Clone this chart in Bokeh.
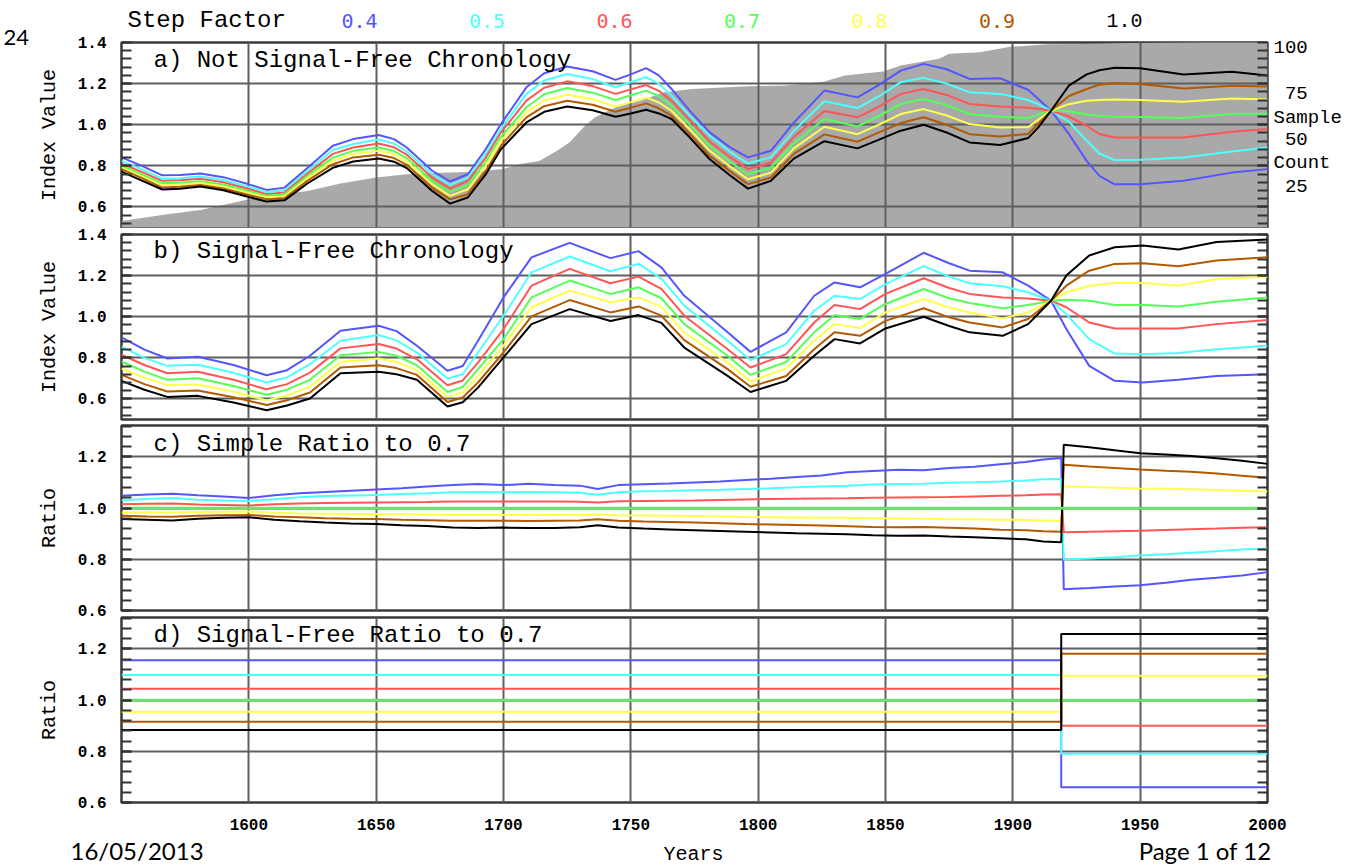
from bokeh.plotting import figure
from bokeh.models import (Range1d, LinearAxis, FixedTicker, Label, Grid,
                          PrintfTickFormatter, CustomJSTickFormatter)
from bokeh.layouts import column
from bokeh.embed import file_html
from bokeh.resources import INLINE

# ---------------- data ----------------
step_factors = ["0.4", "0.5", "0.6", "0.7", "0.8", "0.9", "1.0"]
line_colors = ["#5555ff", "#4dffff", "#ff5555", "#55ff55", "#ffff4d", "#b35900", "#000000"]

year_ticks = [1600, 1650, 1700, 1750, 1800, 1850, 1900, 1950, 2000]

# a) Not signal-free chronology
years_a = [1550, 1558, 1566, 1573, 1581, 1590, 1600, 1607, 1614, 1623, 1633, 1641, 1651, 1657, 1662,
           1672, 1679, 1686, 1693, 1699, 1709, 1716, 1725, 1735, 1744, 1750, 1756, 1761, 1766, 1773,
           1781, 1789, 1796, 1805, 1814, 1826, 1839, 1847, 1856, 1865, 1874, 1883, 1895, 1906, 1910,
           1915, 1922, 1929, 1934, 1940, 1950, 1967, 1986, 2000]
a_04 = [0.841, 0.800, 0.754, 0.755, 0.763, 0.745, 0.710, 0.683, 0.694, 0.789, 0.898, 0.930, 0.950, 0.930, 0.889,
        0.776, 0.724, 0.759, 0.880, 1.003, 1.182, 1.250, 1.283, 1.260, 1.218, 1.245, 1.275, 1.240, 1.174, 1.070,
        0.963, 0.890, 0.841, 0.873, 1.010, 1.166, 1.133, 1.190, 1.263, 1.296, 1.270, 1.223, 1.226, 1.170, 1.125,
        1.068, 0.955, 0.824, 0.751, 0.710, 0.710, 0.727, 0.767, 0.784]
a_05 = [0.824, 0.783, 0.738, 0.740, 0.748, 0.731, 0.697, 0.672, 0.681, 0.775, 0.877, 0.906, 0.928, 0.908, 0.870,
        0.759, 0.707, 0.743, 0.858, 0.979, 1.150, 1.215, 1.247, 1.222, 1.182, 1.208, 1.231, 1.200, 1.141, 1.045,
        0.946, 0.868, 0.811, 0.841, 0.970, 1.114, 1.081, 1.135, 1.207, 1.228, 1.200, 1.158, 1.150, 1.120, 1.100,
        1.068, 1.015, 0.922, 0.860, 0.828, 0.830, 0.840, 0.870, 0.889]
a_06 = [0.811, 0.770, 0.727, 0.730, 0.737, 0.720, 0.687, 0.662, 0.670, 0.762, 0.858, 0.889, 0.909, 0.890, 0.854,
        0.743, 0.689, 0.727, 0.840, 0.963, 1.117, 1.180, 1.211, 1.188, 1.150, 1.172, 1.193, 1.165, 1.117, 1.025,
        0.917, 0.842, 0.784, 0.816, 0.940, 1.067, 1.036, 1.085, 1.150, 1.174, 1.145, 1.101, 1.089, 1.082, 1.078,
        1.068, 1.040, 0.995, 0.955, 0.938, 0.938, 0.938, 0.966, 0.979]
a_07 = [0.800, 0.758, 0.715, 0.718, 0.725, 0.709, 0.677, 0.654, 0.661, 0.750, 0.840, 0.873, 0.889, 0.872, 0.837,
        0.727, 0.673, 0.707, 0.820, 0.941, 1.085, 1.148, 1.179, 1.156, 1.120, 1.143, 1.166, 1.140, 1.093, 1.003,
        0.898, 0.820, 0.759, 0.792, 0.910, 1.028, 0.992, 1.040, 1.101, 1.125, 1.096, 1.052, 1.039, 1.032, 1.050,
        1.068, 1.066, 1.050, 1.043, 1.039, 1.037, 1.033, 1.053, 1.053]
a_08 = [0.792, 0.749, 0.706, 0.709, 0.717, 0.700, 0.668, 0.646, 0.652, 0.740, 0.825, 0.857, 0.873, 0.856, 0.821,
        0.711, 0.654, 0.686, 0.800, 0.922, 1.060, 1.118, 1.146, 1.125, 1.089, 1.110, 1.133, 1.108, 1.068, 0.980,
        0.873, 0.796, 0.735, 0.767, 0.885, 0.990, 0.954, 0.998, 1.052, 1.076, 1.045, 1.003, 0.987, 0.988, 1.025,
        1.068, 1.100, 1.117, 1.120, 1.123, 1.120, 1.112, 1.128, 1.123]
a_09 = [0.784, 0.740, 0.694, 0.698, 0.707, 0.690, 0.658, 0.637, 0.642, 0.727, 0.808, 0.841, 0.854, 0.838, 0.805,
        0.694, 0.637, 0.662, 0.775, 0.898, 1.036, 1.090, 1.117, 1.097, 1.063, 1.083, 1.104, 1.080, 1.044, 0.958,
        0.849, 0.773, 0.711, 0.743, 0.858, 0.953, 0.917, 0.960, 1.008, 1.036, 1.000, 0.954, 0.943, 0.955, 1.005,
        1.068, 1.140, 1.174, 1.195, 1.202, 1.198, 1.176, 1.190, 1.186]
a_10 = [0.772, 0.728, 0.685, 0.689, 0.699, 0.681, 0.648, 0.626, 0.632, 0.714, 0.790, 0.821, 0.836, 0.820, 0.789,
        0.678, 0.616, 0.646, 0.758, 0.881, 1.011, 1.063, 1.089, 1.070, 1.039, 1.055, 1.073, 1.055, 1.028, 0.940,
        0.832, 0.753, 0.689, 0.727, 0.835, 0.920, 0.885, 0.925, 0.971, 1.000, 0.962, 0.914, 0.901, 0.935, 0.987,
        1.068, 1.190, 1.245, 1.265, 1.277, 1.275, 1.244, 1.258, 1.239]

# sample count (grey area, right axis of panel a)
count_years = [1550, 1568, 1581, 1600, 1613, 1623, 1636, 1650, 1662, 1672, 1686, 1700, 1706, 1714, 1721,
               1726, 1732, 1736, 1744, 1754, 1763, 1774, 1796, 1811, 1826, 1834, 1849, 1856, 1871, 1875,
               1887, 1899, 1914, 1930, 1946, 2000]
sample_count = [6.6, 10.2, 12.5, 18.3, 21.0, 22.8, 26.8, 30.0, 31.8, 32.5, 33.0, 34.6, 37.2, 39.0, 44.5,
                49.0, 58.0, 62.5, 67.9, 71.5, 76.0, 77.8, 79.2, 79.6, 81.8, 85.0, 87.2, 90.4, 94.0, 96.7,
                97.6, 100.5, 101.8, 102.0, 102.5, 103.5]
count_ticks = [25, 38, 50, 62, 75, 100]
count_labels = {25: "\u00a025", 38: "Count", 50: "\u00a050", 62: "Sample", 75: "\u00a075", 100: "100"}

# b) Signal-free chronology
years_b = [1550, 1559, 1568, 1580, 1594, 1607, 1615, 1624, 1636, 1651, 1658, 1666, 1678, 1684, 1690,
           1700, 1711, 1726, 1742, 1753, 1762, 1771, 1788, 1797, 1811, 1822, 1830, 1840, 1850, 1865,
           1875, 1883, 1896, 1906, 1915, 1921, 1930, 1940, 1951, 1965, 1980, 2000]
b_04 = [0.899, 0.840, 0.797, 0.805, 0.765, 0.715, 0.740, 0.810, 0.932, 0.956, 0.930, 0.859, 0.737, 0.760, 0.883,
        1.094, 1.289, 1.359, 1.285, 1.319, 1.240, 1.102, 0.924, 0.829, 0.924, 1.102, 1.167, 1.143, 1.208, 1.311,
        1.260, 1.224, 1.216, 1.151, 1.078, 0.940, 0.761, 0.688, 0.680, 0.693, 0.712, 0.720]
b_05 = [0.855, 0.800, 0.761, 0.766, 0.727, 0.680, 0.705, 0.769, 0.883, 0.911, 0.885, 0.826, 0.699, 0.720, 0.826,
        1.005, 1.216, 1.293, 1.221, 1.257, 1.185, 1.054, 0.883, 0.789, 0.867, 1.029, 1.102, 1.086, 1.159, 1.246,
        1.195, 1.163, 1.148, 1.119, 1.078, 1.013, 0.891, 0.821, 0.818, 0.823, 0.842, 0.859]
b_06 = [0.815, 0.765, 0.725, 0.732, 0.693, 0.647, 0.672, 0.728, 0.846, 0.867, 0.845, 0.793, 0.667, 0.690, 0.777,
        0.940, 1.151, 1.233, 1.163, 1.195, 1.135, 1.005, 0.842, 0.753, 0.818, 0.972, 1.057, 1.037, 1.111, 1.187,
        1.140, 1.111, 1.094, 1.089, 1.078, 1.046, 0.972, 0.943, 0.943, 0.943, 0.964, 0.984]
b_07 = [0.782, 0.733, 0.693, 0.701, 0.663, 0.620, 0.645, 0.693, 0.813, 0.829, 0.810, 0.764, 0.634, 0.658, 0.745,
        0.891, 1.094, 1.176, 1.111, 1.143, 1.090, 0.964, 0.810, 0.717, 0.780, 0.924, 1.008, 0.989, 1.062, 1.135,
        1.090, 1.067, 1.041, 1.057, 1.078, 1.083, 1.078, 1.057, 1.057, 1.050, 1.073, 1.094]
b_08 = [0.748, 0.703, 0.667, 0.670, 0.635, 0.593, 0.617, 0.660, 0.780, 0.797, 0.780, 0.740, 0.610, 0.632, 0.712,
        0.859, 1.046, 1.127, 1.070, 1.094, 1.048, 0.924, 0.777, 0.685, 0.748, 0.883, 0.964, 0.945, 1.021, 1.086,
        1.045, 1.021, 0.992, 1.021, 1.078, 1.119, 1.151, 1.164, 1.164, 1.151, 1.184, 1.195]
b_09 = [0.717, 0.672, 0.636, 0.641, 0.608, 0.571, 0.594, 0.631, 0.753, 0.764, 0.750, 0.717, 0.585, 0.607, 0.680,
        0.826, 1.002, 1.081, 1.021, 1.050, 1.005, 0.886, 0.745, 0.659, 0.712, 0.842, 0.924, 0.907, 0.980, 1.041,
        0.997, 0.972, 0.948, 0.989, 1.078, 1.151, 1.224, 1.257, 1.260, 1.246, 1.273, 1.289]
b_10 = [0.688, 0.645, 0.610, 0.615, 0.583, 0.545, 0.568, 0.602, 0.725, 0.732, 0.720, 0.693, 0.563, 0.584, 0.655,
        0.802, 0.964, 1.037, 0.979, 1.008, 0.970, 0.850, 0.712, 0.634, 0.688, 0.810, 0.891, 0.870, 0.943, 1.000,
        0.955, 0.924, 0.907, 0.964, 1.078, 1.200, 1.298, 1.338, 1.346, 1.327, 1.363, 1.376]

# c) Simple ratio to 0.7
years_c = [1550, 1560, 1570, 1580, 1590, 1600, 1610, 1620, 1630, 1640, 1650, 1660, 1670, 1680, 1690,
           1700, 1710, 1720, 1730, 1737, 1745, 1755, 1765, 1775, 1785, 1795, 1805, 1815, 1825, 1835,
           1845, 1855, 1865, 1875, 1885, 1895, 1905, 1912, 1919,
           1920, 1930, 1940, 1950, 1960, 1970, 1980, 1990, 2000]
c_04 = [1.048, 1.053, 1.056, 1.050, 1.046, 1.040, 1.050, 1.058, 1.063, 1.068, 1.073, 1.078, 1.085, 1.090, 1.094,
        1.090, 1.095, 1.090, 1.088, 1.075, 1.090, 1.093, 1.096, 1.100, 1.104, 1.110, 1.115, 1.122, 1.128, 1.140,
        1.145, 1.150, 1.148, 1.157, 1.162, 1.172, 1.180, 1.190, 1.196,
        0.683, 0.688, 0.694, 0.699, 0.708, 0.720, 0.728, 0.737, 0.750]
c_05 = [1.031, 1.036, 1.040, 1.033, 1.030, 1.028, 1.035, 1.043, 1.047, 1.049, 1.051, 1.055, 1.058, 1.062, 1.063,
        1.062, 1.063, 1.062, 1.060, 1.052, 1.062, 1.066, 1.067, 1.070, 1.072, 1.075, 1.078, 1.082, 1.085, 1.088,
        1.092, 1.094, 1.095, 1.099, 1.101, 1.104, 1.108, 1.113, 1.114,
        0.799, 0.803, 0.808, 0.815, 0.820, 0.826, 0.832, 0.838, 0.842]
c_06 = [1.015, 1.017, 1.018, 1.014, 1.012, 1.010, 1.015, 1.018, 1.020, 1.021, 1.022, 1.023, 1.024, 1.026, 1.026,
        1.026, 1.026, 1.026, 1.025, 1.022, 1.027, 1.028, 1.029, 1.030, 1.032, 1.034, 1.036, 1.037, 1.038, 1.039,
        1.041, 1.042, 1.043, 1.044, 1.046, 1.048, 1.050, 1.053, 1.054,
        0.906, 0.908, 0.910, 0.912, 0.915, 0.918, 0.920, 0.923, 0.925]
c_07_years = [1550, 2000]
c_07 = [1.0, 1.0]
c_08 = [0.983, 0.984, 0.983, 0.985, 0.986, 0.987, 0.982, 0.979, 0.978, 0.977, 0.977, 0.976, 0.975, 0.973, 0.973,
        0.973, 0.973, 0.973, 0.972, 0.975, 0.972, 0.971, 0.970, 0.969, 0.967, 0.965, 0.964, 0.963, 0.962, 0.962,
        0.961, 0.960, 0.959, 0.957, 0.957, 0.955, 0.954, 0.952, 0.951,
        1.086, 1.083, 1.080, 1.077, 1.076, 1.074, 1.071, 1.068, 1.065]
c_09 = [0.970, 0.967, 0.966, 0.970, 0.972, 0.973, 0.967, 0.964, 0.961, 0.959, 0.958, 0.955, 0.953, 0.951, 0.951,
        0.951, 0.950, 0.951, 0.952, 0.957, 0.951, 0.948, 0.946, 0.944, 0.941, 0.938, 0.936, 0.934, 0.932, 0.929,
        0.926, 0.925, 0.926, 0.923, 0.920, 0.916, 0.914, 0.910, 0.908,
        1.170, 1.163, 1.157, 1.151, 1.146, 1.142, 1.135, 1.127, 1.119]
c_10 = [0.958, 0.955, 0.952, 0.959, 0.962, 0.964, 0.955, 0.949, 0.944, 0.940, 0.938, 0.933, 0.930, 0.924, 0.922,
        0.924, 0.922, 0.922, 0.925, 0.933, 0.924, 0.920, 0.917, 0.914, 0.911, 0.908, 0.905, 0.902, 0.900, 0.898,
        0.894, 0.892, 0.893, 0.889, 0.886, 0.882, 0.878, 0.870, 0.867,
        1.248, 1.238, 1.226, 1.215, 1.210, 1.204, 1.195, 1.185, 1.173]

# d) Signal-free ratio to 0.7 (constant before / after the step year)
d_years = [1550, 1919, 1919, 2000]
d_before = [1.156, 1.098, 1.045, 1.000, 0.955, 0.916, 0.883]
d_after = [0.660, 0.791, 0.900, 1.000, 1.095, 1.181, 1.259]

# ---------------- styling helpers ----------------
MONO = "Liberation Mono"
GRID_C = "#5f5f5f"
TICK_C = "#333333"
GREEN_THICK = "#6ee06e"
W = 1359
HDR_H = 50


def style_axis(ax, labels=True):
    ax.axis_line_color = None
    ax.major_tick_in = 10
    ax.major_tick_out = 0
    ax.minor_tick_in = 10
    ax.minor_tick_out = 0
    ax.major_tick_line_color = TICK_C
    ax.minor_tick_line_color = TICK_C
    ax.major_tick_line_width = 2
    ax.minor_tick_line_width = 2
    ax.major_label_text_font = MONO
    ax.major_label_text_font_style = "bold"
    ax.major_label_text_color = "black"
    ax.major_label_text_font_size = "16px"
    if labels:
        ax.formatter = PrintfTickFormatter(format="%.1f")
        ax.major_label_standoff = 15
    else:
        ax.formatter = CustomJSTickFormatter(code="return ''")
        ax.major_label_standoff = 0


def make_panel(height, top, bottom, ylo, yhi, majors, minors, hgrid, ylabel, title, title_y_off, **kw):
    p = figure(width=W, height=height, x_range=Range1d(1550, 2000), y_range=Range1d(ylo, yhi),
               x_axis_type=None, y_axis_type=None, output_backend="svg", toolbar_location=None,
               min_border_left=121, min_border_right=92, min_border_top=top, min_border_bottom=bottom,
               **kw)
    p.outline_line_color = "#3a3a3a"
    p.outline_line_width = 2.5
    p.background_fill_color = "white"
    p.border_fill_color = "white"
    yt = FixedTicker(ticks=majors, minor_ticks=minors)
    left = LinearAxis(ticker=yt, axis_label=ylabel)
    style_axis(left)
    left.axis_label_text_font = MONO
    left.axis_label_text_font_style = "normal"
    left.axis_label_text_font_size = "20px"
    left.axis_label_text_color = "black"
    left.axis_label_standoff = 14
    p.add_layout(left, "left")
    right = LinearAxis(ticker=yt)
    style_axis(right, labels=False)
    p.add_layout(right, "right")
    p.add_layout(Grid(dimension=0, ticker=FixedTicker(ticks=year_ticks[:-1]),
                      grid_line_color=GRID_C, grid_line_width=2))
    p.add_layout(Grid(dimension=1, ticker=FixedTicker(ticks=hgrid),
                      grid_line_color=GRID_C, grid_line_width=2))
    p.add_layout(Label(x=1550, y=yhi, x_offset=32, y_offset=title_y_off, text=title,
                       text_font=MONO, text_font_size="24px", text_color="black",
                       text_baseline="middle"))
    return p


def text_strip(height):
    # a plain strip whose frame covers the whole canvas, in pixel-like coordinates (top-down)
    s = figure(width=W, height=height, x_range=Range1d(0, W), y_range=Range1d(height, 0),
               x_axis_type=None, y_axis_type=None, output_backend="svg", toolbar_location=None,
               min_border=0, title=None, frame_align=False)
    s.outline_line_color = None
    s.background_fill_color = "white"
    s.border_fill_color = "white"
    return s


idx_majors = [0.6, 0.8, 1.0, 1.2, 1.4]
idx_minors = [round(0.52 + 0.04 * i, 2) for i in range(22)]
rat_majors = [0.6, 0.8, 1.0, 1.2]
rat_minors = [round(0.60 + 0.04 * i, 2) for i in range(19)]

# ---------------- header ----------------
hdr = text_strip(HDR_H)
hdr.add_layout(Label(x=127, y=20, text="Step Factor", text_font=MONO, text_font_size="24px",
                     text_color="black", text_baseline="middle"))
for i, (sf, col) in enumerate(zip(step_factors, line_colors)):
    hdr.add_layout(Label(x=359 + 127.5 * i, y=20, text=sf,
                         text_font=("DejaVu Sans Mono" if sf != "1.0" else MONO),
                         text_font_size="20px", text_color=col,
                         text_align="center", text_baseline="middle"))
hdr.add_layout(Label(x=3, y=37, text="24", text_font="Lato", text_font_size="22px",
                     text_color="black", text_baseline="middle"))

# ---------------- panel a ----------------
pa = make_panel(194, 8, 1, 0.5, 1.4, idx_majors, idx_minors, [0.6, 0.8, 1.0, 1.2],
                "Index Value", "a) Not Signal-Free Chronology", -18,
                margin=(-(HDR_H - 34), 0, 0, 0))
pa.border_fill_alpha = 0
pa.extra_y_ranges = {"count": Range1d(3.1, 102.8)}
pa.varea(x=count_years, y1=0, y2=sample_count, y_range_name="count",
         fill_color="#a9a9a9", level="image")
cnt_axis = LinearAxis(y_range_name="count", ticker=FixedTicker(ticks=count_ticks),
                      major_label_overrides=count_labels)
cnt_axis.axis_line_color = None
cnt_axis.major_tick_in = 0
cnt_axis.major_tick_out = 0
cnt_axis.minor_tick_in = 0
cnt_axis.minor_tick_out = 0
cnt_axis.major_label_text_font = MONO
cnt_axis.major_label_text_font_size = "19px"
cnt_axis.major_label_text_color = "black"
cnt_axis.major_label_standoff = 6
pa.add_layout(cnt_axis, "right")

for ys, col in zip([a_04, a_05, a_06, a_07, a_08, a_09, a_10], line_colors):
    pa.line(years_a, ys, line_color=col, line_width=2)

# ---------------- panel b ----------------
pb = make_panel(194, 6, 3, 0.5, 1.4, idx_majors, idx_minors, [0.6, 0.8, 1.0, 1.2],
                "Index Value", "b) Signal-Free Chronology", -17)
for ys, col in zip([b_04, b_05, b_06, b_07, b_08, b_09, b_10], line_colors):
    pb.line(years_b, ys, line_color=col, line_width=2)

# ---------------- panel c ----------------
pc = make_panel(200, 3, 12, 0.6, 1.323, rat_majors, rat_minors, [0.8, 1.0, 1.2],
                "Ratio", "c) Simple Ratio to 0.7", -19)
for ys, col in zip([c_04, c_05, c_06, c_08, c_09, c_10],
                   [line_colors[i] for i in (0, 1, 2, 4, 5, 6)]):
    pc.line(years_c, ys, line_color=col, line_width=2)
pc.line(c_07_years, c_07, line_color=GREEN_THICK, line_width=3)

# ---------------- panel d ----------------
pd_ = make_panel(220, 1, 34, 0.6, 1.323, rat_majors, rat_minors, [0.8, 1.0, 1.2],
                 "Ratio", "d) Signal-Free Ratio to 0.7", -18, margin=(-6, 0, 0, 0))
pd_.border_fill_alpha = 0
for i, col in enumerate(line_colors):
    pd_.line(d_years, [d_before[i], d_before[i], d_after[i], d_after[i]],
             line_color=(col if i != 3 else GREEN_THICK), line_width=(2 if i != 3 else 3))
xax = LinearAxis(ticker=FixedTicker(ticks=year_ticks))
xax.axis_line_color = None
xax.major_tick_in = 0
xax.major_tick_out = 0
xax.minor_tick_in = 0
xax.minor_tick_out = 0
xax.major_label_text_font = MONO
xax.major_label_text_font_style = "bold"
xax.major_label_text_font_size = "16px"
xax.major_label_text_color = "black"
xax.major_label_standoff = 16
pd_.add_layout(xax, "below")

# ---------------- footer ----------------
ftr = text_strip(29)
ftr.add_layout(Label(x=70, y=14, text="16/05/2013", text_font="Lato", text_font_size="24px",
                     text_color="black", text_baseline="middle"))
ftr.add_layout(Label(x=693, y=18, text="Years", text_font=MONO, text_font_size="20px",
                     text_color="black", text_align="center", text_baseline="middle"))
ftr.add_layout(Label(x=1271, y=14, text="Page 1 of 12", text_font="Lato", text_font_size="24px",
                     text_color="black", text_align="right", text_baseline="middle"))

layout = column(hdr, pa, pb, pc, pd_, ftr, spacing=0)
open("out.html", "w").write(file_html(layout, INLINE))
